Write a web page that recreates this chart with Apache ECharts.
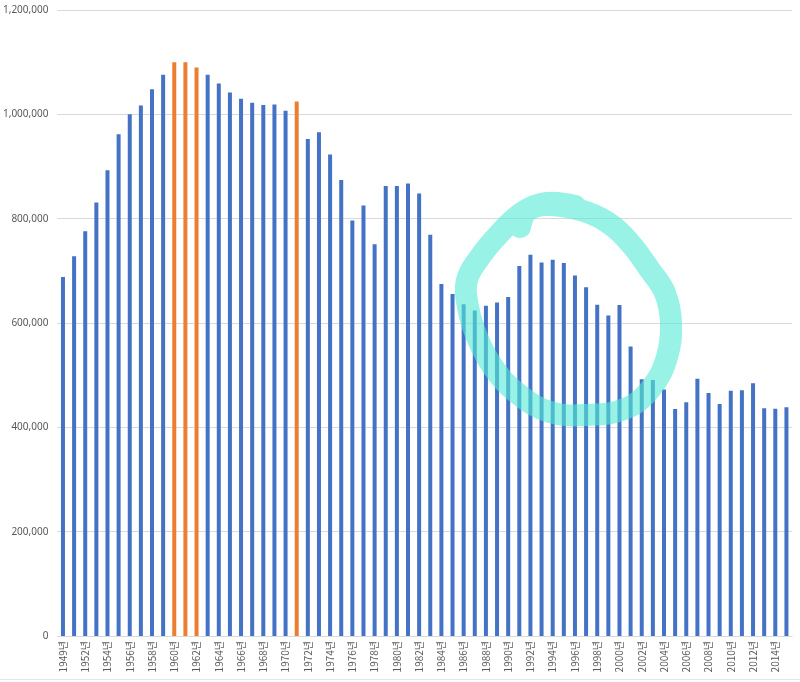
<!DOCTYPE html>
<html>
<head>
<meta charset="utf-8">
<script src="https://cdn.jsdelivr.net/npm/echarts@6/dist/echarts.min.js"></script>
<style>html,body{margin:0;padding:0;background:#fff;}#c{width:800px;height:682px;}</style>
</head>
<body>
<div id="c"></div>
<script>
var years = ['1949년','1951년'];
for (var y = 1952; y <= 2015; y++) years.push(y + '년');

var births = [
  688000, 728000, 776000, 831000, 893000, 962000, 1000000, 1017000, 1048000, 1076000,
  1100000, 1100000, 1090000, 1076000, 1059000, 1042000, 1030000, 1022000, 1018000, 1019000,
  1006645, 1024773, 952780, 965521, 922823, 874030, 796331, 825339, 750728, 862669,
  862835, 867409, 848312, 769155, 674793, 655489, 636019, 623831, 633092, 639431,
  649738, 709275, 730678, 715826, 721185, 715020, 691226, 668344, 634790, 614233,
  634501, 554895, 492111, 490543, 472761, 435031, 448153, 493189, 465892, 444849,
  470171, 471265, 484550, 436455, 435435, 438420
];

var highlightYears = ['1960년','1961년','1962년','1971년'];
var yTicks = { min: 0, max: 1200000, interval: 200000 };

var blue = '#4472C4', orange = '#ED7D31';

var data = births.map(function (v, i) {
  return { value: v, itemStyle: { color: highlightYears.indexOf(years[i]) >= 0 ? orange : blue } };
});

var chart = echarts.init(document.getElementById('c'));

var circlePts = [
  [520,227],[527,211],[547,205],[580,210],[607,222],[630,243],[650,270],[665,293],
  [671,323],[667,357],[652,387],[627,408],[587,415],[550,412],[517,393],[493,367],
  [477,337],[468,307],[467,280],[480,257],[500,233],[523,212],[547,203],[575,206]
];

chart.setOption({
  animation: false,
  backgroundColor: '#fff',
  grid: { left: 55, right: 8, top: 10, bottom: 46 },
  xAxis: {
    type: 'category',
    data: years,
    axisLine: { lineStyle: { color: '#D9D9D9' } },
    axisTick: { show: false },
    axisLabel: {
      interval: 1, rotate: 90, color: '#595959', fontSize: 10,
      fontFamily: 'Noto Sans CJK KR', margin: 5
    }
  },
  yAxis: {
    type: 'value',
    min: yTicks.min, max: yTicks.max, interval: yTicks.interval,
    axisLine: { show: false },
    axisTick: { show: false },
    splitLine: { lineStyle: { color: '#D9D9D9' } },
    axisLabel: {
      color: '#595959', fontSize: 10, fontFamily: 'Noto Sans', margin: 9,
      formatter: function (v) { return v.toLocaleString('en-US'); }
    }
  },
  series: [{
    type: 'bar',
    data: data,
    barWidth: 4
  }],
  graphic: [
    {
      type: 'polyline', z: 100,
      shape: { points: circlePts, smooth: 0.4 },
      style: { stroke: 'rgba(83,235,213,0.6)', lineWidth: 22, fill: null, lineCap: 'round', lineJoin: 'round' }
    },
    {
      type: 'line', z: 50,
      shape: { x1: 0, y1: 679.5, x2: 800, y2: 679.5 },
      style: { stroke: '#E6E6E6', lineWidth: 1 }
    }
  ]
});
</script>
</body>
</html>
